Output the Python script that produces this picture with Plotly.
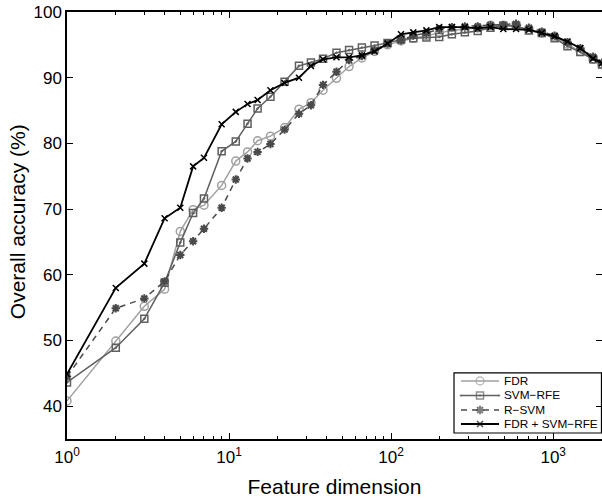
import plotly.graph_objects as go

dims = [1, 2, 3, 4, 5, 6, 7, 9, 11, 13, 15, 18, 22, 27, 32, 38, 46, 55, 66, 79, 95,
        115, 137, 165, 198, 237, 285, 342, 410, 492, 590, 708, 850, 1020, 1224, 1469, 1763, 2000]

fdr = [40.8, 49.9, 55.2, 57.8, 66.6, 69.9, 70.6, 73.6, 77.3, 78.7, 80.4, 81.1, 82.4, 85.2, 86.2,
       88.1, 89.9, 91.7, 93.0, 94.0, 95.0, 95.6, 96.0, 96.4, 96.9, 97.2, 97.4, 97.6, 98.0, 98.0,
       97.8, 97.3, 96.8, 96.2, 95.1, 94.0, 92.8, 92.0]

svm_rfe = [43.6, 48.9, 53.3, 58.8, 64.9, 69.4, 71.6, 78.8, 80.3, 83.0, 85.3, 87.1, 89.4, 91.8, 92.3,
           92.9, 93.8, 94.2, 94.6, 94.9, 95.3, 95.8, 96.0, 96.1, 96.2, 96.6, 96.9, 97.1, 97.6, 97.9,
           97.9, 97.2, 96.8, 96.0, 94.8, 93.9, 92.8, 92.0]

r_svm = [44.5, 54.9, 56.4, 59.0, 63.0, 65.1, 67.0, 70.2, 74.5, 77.7, 78.7, 79.9, 82.1, 84.5, 85.8,
         88.9, 90.9, 92.7, 93.3, 94.2, 95.2, 95.7, 96.4, 96.8, 97.4, 97.7, 97.8, 97.8, 98.0, 98.0,
         98.2, 97.6, 97.0, 96.4, 95.4, 94.5, 93.2, 92.3]

fdr_svm_rfe = [44.9, 58.0, 61.7, 68.6, 70.2, 76.5, 77.8, 82.9, 84.8, 86.0, 86.6, 88.1, 89.2, 90.0, 91.8,
               92.8, 93.1, 93.1, 93.4, 94.0, 95.2, 96.6, 96.9, 97.2, 97.7, 97.7, 97.7, 97.5, 97.7, 97.4,
               97.4, 97.3, 96.8, 96.3, 95.5, 94.5, 92.9, 92.2]

names = ["FDR", "SVM\u2212RFE", "R\u2212SVM", "FDR + SVM\u2212RFE"]
y_ticks = [40, 50, 60, 70, 80, 90, 100]
x_ticks = [1, 10, 100, 1000]
x_ticktext = ["10<sup>0</sup>", "10<sup>1</sup>", "10<sup>2</sup>", "10<sup>3</sup>"]
y_title = "Overall accuracy (%)"
x_title = "Feature dimension"

FONT = "Liberation Sans, Arial, Helvetica, sans-serif"

styles = [
    dict(line=dict(color="#a0a0a0", width=1.5),
         marker=dict(symbol="circle-open", size=8, color="#a0a0a0", line=dict(width=1.5, color="#a0a0a0"))),
    dict(line=dict(color="#5f5f5f", width=1.5),
         marker=dict(symbol="square-open-dot", size=7, color="#5f5f5f", line=dict(width=1.5, color="#5f5f5f"))),
    dict(line=dict(color="#4a4a4a", width=1.5, dash="6px,5px"),
         marker=dict(symbol="asterisk-open", size=7, color="#4a4a4a", line=dict(width=2, color="#4a4a4a"))),
    dict(line=dict(color="#000000", width=1.8),
         marker=dict(symbol="x-thin-open", size=6, color="#000000", line=dict(width=1.5, color="#000000"))),
]
series = [fdr, svm_rfe, r_svm, fdr_svm_rfe]

fig = go.Figure()
for nm, ys, st in zip(names, series, styles):
    fig.add_trace(go.Scatter(x=dims, y=ys, name=nm, mode="lines+markers",
                             line=st["line"], marker=st["marker"], showlegend=False))

# custom compact legend (Matlab-like), placed in plot-area fractions
LEG_BOX = (0.7234, 0.999, 0.014, 0.155)
LEG_ROWS = [0.1358, 0.1019, 0.0679, 0.0351]
LEG_LINE = (0.7364, 0.772, 0.8075)
LEG_TEXT_X = 0.8131

fig.add_shape(type="rect", xref="paper", yref="paper",
              x0=LEG_BOX[0], x1=LEG_BOX[1], y0=LEG_BOX[2], y1=LEG_BOX[3],
              line=dict(color="black", width=1.2), fillcolor="white", layer="below")
for nm, row, st in zip(names, LEG_ROWS, styles):
    mk = dict(st["marker"])
    mk["size"] = [0, st["marker"]["size"], 0]
    fig.add_trace(go.Scatter(x=list(LEG_LINE), y=[row, row, row], mode="lines+markers",
                             line=st["line"], marker=mk, xaxis="x2", yaxis="y2",
                             showlegend=False, hoverinfo="skip"))
    fig.add_annotation(x=LEG_TEXT_X, y=row, xref="paper", yref="paper", text=nm,
                       showarrow=False, xanchor="left", yanchor="middle",
                       font=dict(family=FONT, size=11.8, color="black"))

# y-axis title as rotated annotation (precise placement)
fig.add_annotation(x=-0.0935, y=0.51, xref="paper", yref="paper", text=y_title,
                   showarrow=False, textangle=-90, xanchor="center", yanchor="middle",
                   font=dict(family=FONT, size=21, color="black"))

minor_vals = [v * m for m in (1, 10, 100) for v in range(2, 10)] + [2000]

fig.update_layout(
    template="none",
    width=602, height=503,
    margin=dict(l=67, r=0, t=12, b=64),
    paper_bgcolor="white", plot_bgcolor="white",
    font=dict(family=FONT, size=17, color="black"),
    showlegend=False,
    xaxis=dict(
        type="log", range=[0, 3.30103], automargin=False,
        tickmode="array", tickvals=x_ticks, ticktext=x_ticktext,
        ticks="inside", ticklen=6, tickwidth=1, tickcolor="black",
        showline=True, linecolor="black", linewidth=1.5, mirror="ticks",
        showgrid=False, zeroline=False, ticklabelstandoff=2, ticklabeloverflow="allow",
        minor=dict(tickmode="array", tickvals=minor_vals, ticks="inside", ticklen=3,
                   tickwidth=1, tickcolor="black", showgrid=False),
        title=dict(text=x_title, font=dict(family=FONT, size=21), standoff=13),
        tickfont=dict(family=FONT, size=17),
    ),
    yaxis=dict(
        range=[35, 100], automargin=False,
        tickmode="array", tickvals=y_ticks,
        ticks="inside", ticklen=6, tickwidth=1, tickcolor="black",
        showline=True, linecolor="black", linewidth=1.5, mirror="ticks",
        showgrid=False, zeroline=False, ticklabeloverflow="allow",
        tickfont=dict(family=FONT, size=17),
    ),
    xaxis2=dict(overlaying="x", range=[0, 1], visible=False, fixedrange=True),
    yaxis2=dict(overlaying="y", range=[0, 1], visible=False, fixedrange=True),
)

fig.write_html("out.html", config={"displayModeBar": False},
               post_script="document.body.style.margin='0px';")
